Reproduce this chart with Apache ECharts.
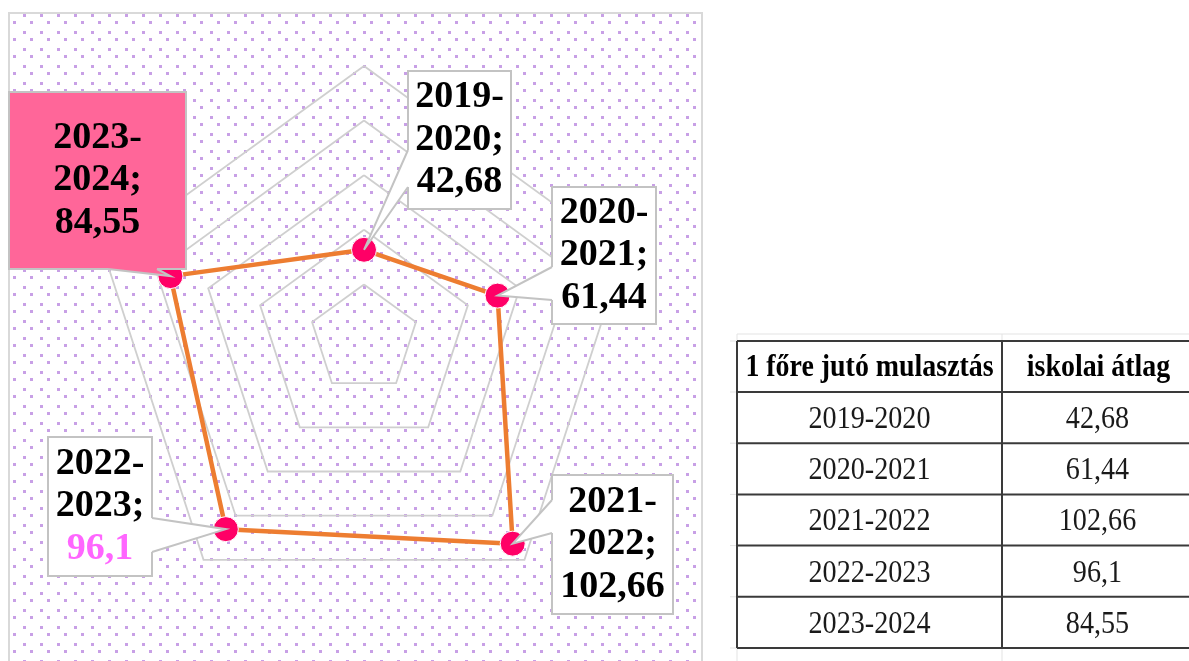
<!DOCTYPE html>
<html>
<head>
<meta charset="utf-8">
<script src="https://cdn.jsdelivr.net/npm/echarts@6/dist/echarts.min.js"></script>
<style>
html, body { margin: 0; padding: 0; background: #fff; }
#main { width: 1189px; height: 661px; }
</style>
</head>
<body>
<div id="main"></div>
<script>
var categories = ['2019-2020', '2020-2021', '2021-2022', '2022-2023', '2023-2024'];
var values = [42.68, 61.44, 102.66, 96.1, 84.55];
var tableHeader = ['1 főre jutó mulasztás', 'iskolai átlag'];
var axisMin = 10;
var axisMax = 110;
var axisSplits = 5;

// excel goes round clockwise, echarts the other way
var order = [0, 4, 3, 2, 1];

// callout boxes (x, y, w, h) and where the pointer leaves the box
var boxes = [
    {x: 408, y: 71, w: 103, h: 138, side: 'left', a: 150, b: 187, bg: '#fff'},
    {x: 552, y: 187, w: 104, h: 137, side: 'left', a: 267, b: 300, bg: '#fff'},
    {x: 552, y: 475, w: 121, h: 139, side: 'left', a: 500, b: 533, bg: '#fff'},
    {x: 48, y: 437, w: 104, h: 139, side: 'right', a: 518, b: 552, bg: '#fff'},
    {x: 9, y: 92, w: 177, h: 177, side: 'bottom', a: 108, b: 157, bg: '#FF6699'}
];
var valueColors = ['#000', '#000', '#000', '#FF66FF', '#000'];

var serif = '"Liberation Serif", "Times New Roman", serif';

function fmt(v) {
    return String(v).replace('.', ',');
}

// dotted fill of the plot area
var tile = document.createElement('canvas');
tile.width = 17;
tile.height = 17;
var tctx = tile.getContext('2d');
tctx.fillStyle = '#C8A0E6';
tctx.fillRect(6, 14, 3, 3);
tctx.fillRect(13, 4, 3, 3);

var myChart = echarts.init(document.getElementById('main'));

var graphics = [
    {
        id: 'bg', type: 'rect', z: -10, silent: true,
        shape: {x: 9, y: 13, width: 693, height: 700},
        style: {fill: {type: 'pattern', image: tile, repeat: 'repeat'}, stroke: '#d9d9d9', lineWidth: 2}
    }
];

// table on the right
var tLeft = 737, tRight = 1189, tMid = 1002, tTop = 341, headH = 51, rowH = 51.2;
var tBottom = tTop + headH + rowH * categories.length;
var lineStyle = {stroke: '#3a3a3a', lineWidth: 2};
var faint = {stroke: '#e3e3e3', lineWidth: 1};

graphics.push({id: 'gf0', type: 'line', shape: {x1: tLeft, y1: 334, x2: tLeft, y2: 661}, style: faint});
graphics.push({id: 'gf1', type: 'line', shape: {x1: tMid, y1: 334, x2: tMid, y2: 661}, style: faint});
graphics.push({id: 'gf2', type: 'line', shape: {x1: tLeft, y1: 334, x2: tRight, y2: 334}, style: faint});

for (var r = 0; r <= categories.length + 1; r++) {
    var yy = r === 0 ? tTop : tTop + headH + rowH * (r - 1);
    graphics.push({id: 'gt' + r, type: 'line', shape: {x1: 730, y1: yy, x2: tLeft, y2: yy}, style: faint});
    graphics.push({id: 'gh' + r, type: 'line', shape: {x1: tLeft, y1: yy, x2: tRight, y2: yy}, style: lineStyle});
}
graphics.push({id: 'gv0', type: 'line', shape: {x1: tLeft, y1: tTop, x2: tLeft, y2: tBottom}, style: lineStyle});
graphics.push({id: 'gv1', type: 'line', shape: {x1: tMid, y1: tTop, x2: tMid, y2: tBottom}, style: lineStyle});

var col1 = (tLeft + tMid) / 2, col2 = (tMid + tRight) / 2;
graphics.push({
    id: 'th0', type: 'text', x: col1, y: tTop + headH / 2 + 1, scaleX: 0.9,
    style: {text: tableHeader[0], x: 0, y: 0, fill: '#000', fontSize: 31, fontWeight: 'bold', fontFamily: serif,
        align: 'center', verticalAlign: 'middle', textAlign: 'center', textVerticalAlign: 'middle'}
});
graphics.push({
    id: 'th1', type: 'text', x: col2 + 3, y: tTop + headH / 2 + 1, scaleX: 0.9,
    style: {text: tableHeader[1], x: 0, y: 0, fill: '#000', fontSize: 31, fontWeight: 'bold', fontFamily: serif,
        align: 'center', verticalAlign: 'middle', textAlign: 'center', textVerticalAlign: 'middle'}
});
categories.forEach(function (c, i) {
    var cy = tTop + headH + rowH * i + rowH / 2 + 2;
    graphics.push({
        id: 'tc' + i, type: 'text', x: col1, y: cy, scaleX: 0.88,
        style: {text: c, x: 0, y: 0, fill: '#1a1a1a', fontSize: 32, fontFamily: serif,
            align: 'center', verticalAlign: 'middle', textAlign: 'center', textVerticalAlign: 'middle'}
    });
    graphics.push({
        id: 'tv' + i, type: 'text', x: col2 + 2, y: cy, scaleX: 0.88,
        style: {text: fmt(values[i]), x: 0, y: 0, fill: '#1a1a1a', fontSize: 32, fontFamily: serif,
            align: 'center', verticalAlign: 'middle', textAlign: 'center', textVerticalAlign: 'middle'}
    });
});

myChart.setOption({
    animation: false,
    backgroundColor: '#fff',
    radar: {
        center: [364, 339],
        radius: 273,
        startAngle: 90,
        splitNumber: axisSplits,
        shape: 'polygon',
        indicator: order.map(function (i) {
            return {name: categories[i], min: axisMin, max: axisMax};
        }),
        axisName: {show: false},
        axisLine: {show: false},
        axisTick: {show: false},
        axisLabel: {show: false},
        splitArea: {show: false},
        splitLine: {lineStyle: {color: '#cfcfcf', width: 1.8}}
    },
    series: [
        {
            type: 'radar',
            symbol: 'circle',
            symbolSize: 25,
            itemStyle: {color: '#FF0066', borderColor: '#fff', borderWidth: 1},
            lineStyle: {color: '#ED7D31', width: 4.5},
            label: {show: false},
            data: [
                {value: order.map(function (i) { return values[i]; })}
            ]
        }
    ],
    graphic: graphics
});

// callouts, pointing at the points the radar laid out
var pts = myChart.getModel().getSeriesByIndex(0).getData().getItemLayout(0);
var callouts = [];
order.forEach(function (catIdx, k) {
    var p = pts[k];
    var bx = boxes[catIdx];
    var b1, b2, i1, i2;
    if (bx.side === 'left') {
        b1 = [bx.x, bx.a]; b2 = [bx.x, bx.b];
        i1 = [bx.x + 3, bx.a]; i2 = [bx.x + 3, bx.b];
    } else if (bx.side === 'right') {
        b1 = [bx.x + bx.w, bx.a]; b2 = [bx.x + bx.w, bx.b];
        i1 = [bx.x + bx.w - 3, bx.a]; i2 = [bx.x + bx.w - 3, bx.b];
    } else {
        b1 = [bx.a, bx.y + bx.h]; b2 = [bx.b, bx.y + bx.h];
        i1 = [bx.a, bx.y + bx.h - 3]; i2 = [bx.b, bx.y + bx.h - 3];
    }
    var parts = categories[catIdx].split('-');
    callouts.push({
        id: 'cr' + catIdx, type: 'rect', z: 100,
        shape: {x: bx.x, y: bx.y, width: bx.w, height: bx.h},
        style: {fill: bx.bg, stroke: '#c3c3c3', lineWidth: 2}
    });
    callouts.push({
        id: 'cw' + catIdx, type: 'polygon', z: 101,
        shape: {points: [i1, b1, [p[0], p[1]], b2, i2]},
        style: {fill: bx.bg}
    });
    callouts.push({
        id: 'cl' + catIdx, type: 'polyline', z: 102,
        shape: {points: [b1, [p[0], p[1]], b2]},
        style: {stroke: '#c3c3c3', lineWidth: 2, fill: null}
    });
    callouts.push({
        id: 'ct' + catIdx, type: 'text', z: 103,
        x: bx.x + bx.w / 2, y: bx.y + bx.h / 2,
        style: {
            text: '{t|' + parts[0] + '-}\n{t|' + parts[1] + ';}\n{v|' + fmt(values[catIdx]) + '}',
            x: 0, y: 0,
            align: 'center', verticalAlign: 'middle', textAlign: 'center', textVerticalAlign: 'middle',
            rich: {
                t: {fontSize: 38, fontWeight: 'bold', fontFamily: serif, lineHeight: 42.5, fill: '#000', color: '#000'},
                v: {fontSize: 38, fontWeight: 'bold', fontFamily: serif, lineHeight: 42.5,
                    fill: valueColors[catIdx], color: valueColors[catIdx]}
            }
        }
    });
});
myChart.setOption({graphic: callouts});
</script>
</body>
</html>
